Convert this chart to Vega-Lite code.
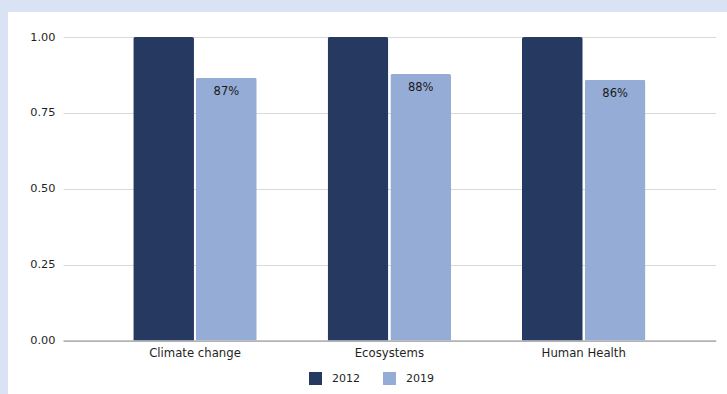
{
  "$schema": "https://vega.github.io/schema/vega-lite/v6.json",
  "width": 719,
  "height": 382,
  "autosize": {"type": "none"},
  "padding": {"left": 8, "top": 12, "right": 0, "bottom": 0},
  "background": "#dae3f3",
  "config": {
    "view": {"fill": "white", "stroke": null},
    "font": "DejaVu Sans"
  },
  "data": {
    "values": [
      {"category": "Climate change", "year": "2012", "value": 1.0},
      {"category": "Climate change", "year": "2019", "value": 0.866},
      {"category": "Ecosystems", "year": "2012", "value": 1.0},
      {"category": "Ecosystems", "year": "2019", "value": 0.878},
      {"category": "Human Health", "year": "2012", "value": 1.0},
      {"category": "Human Health", "year": "2019", "value": 0.859}
    ]
  },
  "encoding": {
    "x": {
      "field": "category",
      "type": "nominal",
      "sort": null,
      "scale": {"range": [55, 707.7], "paddingInner": 0, "paddingOuter": 0.179},
      "axis": {
        "title": null,
        "labelAngle": 0,
        "offset": -53.5,
        "ticks": false,
        "domainColor": "#8c8c8c",
        "domainWidth": 1,
        "labelFontSize": 11.7,
        "labelColor": "#1f1f1f",
        "labelPadding": 7,
        "grid": false
      }
    },
    "xOffset": {
      "field": "year",
      "type": "nominal",
      "scale": {"paddingInner": 0.032, "paddingOuter": 0.565}
    },
    "y": {
      "field": "value",
      "type": "quantitative",
      "scale": {"domain": [0, 1], "range": [328.5, 25], "nice": false},
      "axis": {
        "title": null,
        "values": [0, 0.25, 0.5, 0.75, 1],
        "format": ".2f",
        "offset": -55,
        "domain": false,
        "ticks": false,
        "labelPadding": 8,
        "labelFontSize": 11.3,
        "labelColor": "#1f1f1f",
        "gridColor": "#d9d9d9",
        "gridWidth": 1
      }
    }
  },
  "layer": [
    {
      "mark": {"type": "bar", "cornerRadiusTopLeft": 2, "cornerRadiusTopRight": 2},
      "encoding": {
        "color": {
          "field": "year",
          "type": "nominal",
          "scale": {"domain": ["2012", "2019"], "range": ["#263a61", "#95acd6"]},
          "legend": {
            "title": null,
            "orient": "none",
            "direction": "horizontal",
            "legendX": 301,
            "legendY": 360,
            "symbolType": "square",
            "symbolSize": 169,
            "symbolStrokeWidth": 0,
            "labelFontSize": 11,
            "labelColor": "#1f1f1f",
            "labelOffset": 10,
            "columnPadding": 23
          }
        }
      }
    },
    {
      "transform": [{"filter": "datum.year == '2019'"}],
      "mark": {"type": "text", "baseline": "top", "dy": 8, "fontSize": 11.5, "color": "#1a1a1a"},
      "encoding": {
        "text": {"field": "value", "type": "quantitative", "format": ".0%"}
      }
    }
  ]
}
